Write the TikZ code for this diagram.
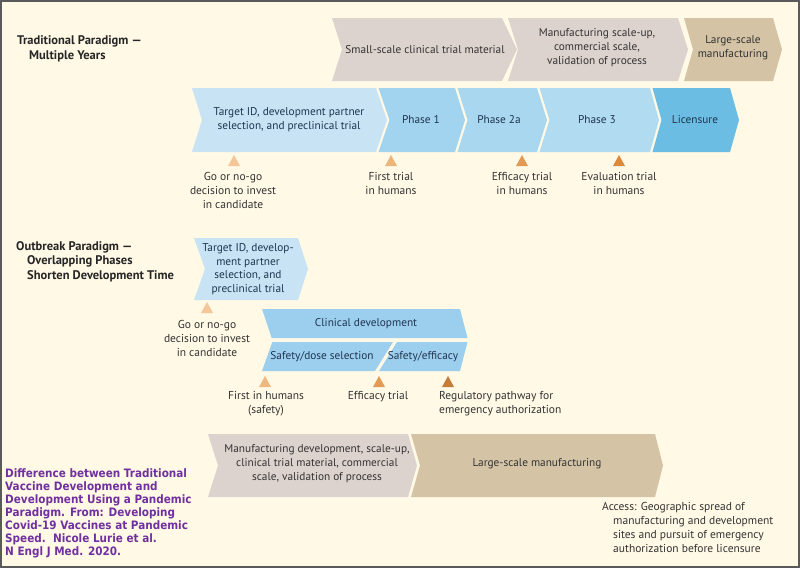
\documentclass[tikz,border=0pt]{standalone}
\usepackage{fontspec}
\setmainfont{PT Sans}
\newfontfamily\purplefont[FakeStretch=0.9]{DejaVu Sans}
\definecolor{bgc}{HTML}{FFF9E6}
\definecolor{framec}{HTML}{5A5A5A}
\definecolor{grayc}{HTML}{DCD3CE}
\definecolor{tanc}{HTML}{D4C4A5}
\definecolor{bluelight}{HTML}{C7E3F4}
\definecolor{bluemid}{HTML}{A3D4EF}
\definecolor{bluedark}{HTML}{6CBDE3}
\definecolor{clinc}{HTML}{9CCFEE}
\definecolor{triA}{HTML}{F4C698}
\definecolor{triB}{HTML}{EDB57A}
\definecolor{triC}{HTML}{E39A55}
\definecolor{triD}{HTML}{DB8A3C}
\definecolor{inkblue}{HTML}{1F3550}
\definecolor{inkgray}{HTML}{333333}
\definecolor{purplec}{HTML}{7030A0}
\newcommand\chevshape[7]{%
  \fill[#7] (#1,#3) -- (#2,#3) -- ({#2+#6},{(#3+#4)/2}) -- (#2,#4) -- (#1,#4) -- ({#1+#5},{(#3+#4)/2}) -- cycle;}
\newcommand\trimark[4]{% x, ytop, ybot, colour
  \fill[#4] ({#1-6},#3) -- ({#1+6},#3) -- (#1,#2) -- cycle;}
\tikzset{
  chevtext/.style={align=center, inner sep=0pt, text=inkblue, font=\fontsize{11.3}{14}\selectfont},
  graytext/.style={chevtext, text=inkgray},
  labeltext/.style={align=center, inner sep=0pt, text=inkgray, font=\fontsize{11.5}{14}\selectfont},
  headtext/.style={align=left, inner sep=0pt, anchor=west, text=black!85, font=\bfseries\fontsize{12.5}{14.5}\selectfont},
}
\begin{document}
\begin{tikzpicture}[x=1pt,y=-1pt]
\useasboundingbox (0,0) rectangle (800,568);
\fill[bgc] (0,0) rectangle (800,568);
\draw[framec, line width=2pt] (1,1) rectangle (799,567);

% ---------- Traditional paradigm ----------
\node[headtext] (trad) at (17,49) {Traditional Paradigm ---\\\hspace*{12pt}Multiple Years};

% gray row
\chevshape{332}{502}{18}{81}{10}{15}{grayc}
\node[graytext] (g1) at (425,49.5) {Small-scale clinical trial material};
\chevshape{508}{678}{18}{81}{10}{10}{grayc}
\node[graytext] (g2) at (597,48) {Manufacturing scale-up,\\commercial scale,\\validation of process};
\chevshape{684}{773}{18}{81}{9}{9}{tanc}
\node[graytext] (g3) at (733,48) {Large-scale\\manufacturing};

% blue row
\chevshape{192}{376}{88}{152}{10}{11}{bluelight}
\node[chevtext] (b1) at (289,120) {Target ID, development partner\\selection, and preclinical trial};
\chevshape{378.5}{455}{88}{152}{11}{10}{bluemid}
\node[chevtext] (b2) at (421,120) {Phase 1};
\chevshape{457.5}{537}{88}{152}{10}{10}{bluemid!92!white}
\node[chevtext] (b3) at (499,120) {Phase 2a};
\chevshape{539.5}{650}{88}{152}{10}{9}{bluemid!85!white}
\node[chevtext] (b4) at (597,120) {Phase 3};
\chevshape{652.5}{730}{88}{152}{9}{9}{bluedark}
\node[chevtext] (b5) at (695,120) {Licensure};

% markers
\trimark{234}{155}{166}{triA}
\node[labeltext] (l1) at (233,190) {Go or no-go\\decision to invest\\in candidate};
\trimark{391}{155}{166}{triB}
\node[labeltext] (l2) at (391,183) {First trial\\in humans};
\trimark{522}{155}{166}{triC}
\node[labeltext] (l3) at (522,183) {Efficacy trial\\in humans};
\trimark{619}{155}{166}{triD}
\node[labeltext] (l4) at (619,183) {Evaluation trial\\in humans};

% ---------- Outbreak paradigm ----------
\node[headtext] (outb) at (16,261.5) {Outbreak Paradigm ---\\\hspace*{11pt}Overlapping Phases\\\hspace*{11pt}Shorten Development Time};

\chevshape{194}{298}{238}{300}{11}{10}{bluelight}
\node[chevtext, font=\fontsize{11.3}{13.5}\selectfont] (o1) at (248,269) {Target ID, develop-\\ment partner\\selection, and\\preclinical trial};
\trimark{207}{302}{313}{triA}
\node[labeltext] (l5) at (207,338) {Go or no-go\\decision to invest\\in candidate};

% clinical development band
\fill[clinc] (262,309) -- (460,309) -- (467.5,338) -- (271.7,338) -- cycle;
\node[chevtext] (c1) at (366,324) {Clinical development};
\fill[clinc] (272.3,342) -- (393,342) -- (375,371) -- (262,371) -- cycle;
\node[chevtext] (c2) at (322,356.5) {Safety/dose selection};
\fill[clinc] (397,342) -- (467.5,342) -- (460,371) -- (379,371) -- cycle;
\node[chevtext] (c3) at (423,356.5) {Safety/efficacy};

\trimark{265}{376}{387}{triB!80!triA}
\node[labeltext] (l6) at (266,403.5) {First in humans\\(safety)};
\trimark{379}{376}{387}{triC}
\node[labeltext] (l7) at (378,397) {Efficacy trial};
\trimark{448}{376}{387}{triD!90!black}
\node[labeltext, align=left, anchor=west] (l8) at (439,403.5) {Regulatory pathway for\\emergency authorization};

% manufacturing row
\chevshape{208}{408}{434}{497}{10}{9}{grayc}
\node[graytext] (m1) at (317,464) {Manufacturing development, scale-up,\\clinical trial material, commercial\\scale, validation of process};
\chevshape{411}{655}{434}{497}{9}{8}{tanc}
\node[graytext] (m2) at (537,464) {Large-scale manufacturing};

\node[labeltext, align=left, anchor=west] (acc) at (602,527) {Access: Geographic spread of\\\hspace*{11pt}manufacturing and development\\\hspace*{11pt}sites and pursuit of emergency\\\hspace*{11pt}authorization before licensure};

% source note
\node[align=left, anchor=west, inner sep=0pt, text=purplec, font=\purplefont\bfseries\fontsize{11.6}{13}\selectfont] (src) at (5,513) {Difference between Traditional\\Vaccine Development and\\Development Using a Pandemic\\Paradigm. From: Developing\\Covid-19 Vaccines at Pandemic\\Speed.\ \ Nicole Lurie et al.\\N Engl J Med. 2020.};
\end{tikzpicture}
\end{document}
